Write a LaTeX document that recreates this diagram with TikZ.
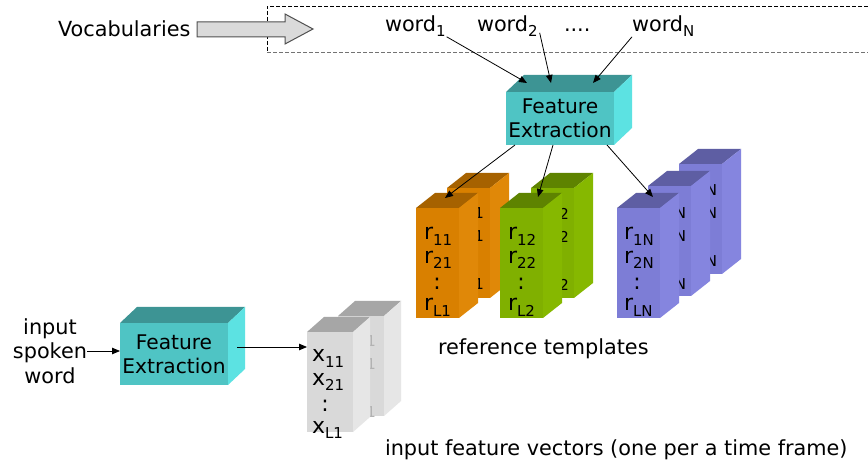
\documentclass[tikz,border=0pt]{standalone}
\usepackage{fontspec}
\setmainfont{DejaVu Sans}
\usetikzlibrary{arrows.meta,calc}

% face colours of the blocks: F = front, T = top, S = side
\definecolor{tealF}{RGB}{79,196,196}
\definecolor{tealT}{RGB}{61,148,148}
\definecolor{tealS}{RGB}{92,226,226}
\definecolor{greyF}{RGB}{217,217,217}
\definecolor{greyT}{RGB}{166,166,166}
\definecolor{greyS}{RGB}{230,230,230}
\definecolor{orngF}{RGB}{217,128,0}
\definecolor{orngT}{RGB}{166,98,0}
\definecolor{orngS}{RGB}{224,136,8}
\definecolor{grnF}{RGB}{128,176,0}
\definecolor{grnT}{RGB}{94,131,0}
\definecolor{grnS}{RGB}{134,184,0}
\definecolor{purpF}{RGB}{125,125,214}
\definecolor{purpT}{RGB}{94,94,163}
\definecolor{purpS}{RGB}{133,133,223}
\definecolor{arrowfill}{RGB}{218,218,218}
\definecolor{arrowline}{RGB}{80,80,80}

\tikzset{
  lbl/.style={inner sep=0pt, outer sep=0pt, font=\fontsize{20.8}{24.5}\selectfont},
  felbl/.style={inner sep=0pt, outer sep=0pt, font=\fontsize{20.2}{24}\selectfont},
  rowtext/.style={inner sep=0pt, outer sep=0pt, font=\fontsize{22}{24}\selectfont},
  subtext/.style={inner sep=0pt, outer sep=0pt, font=\fontsize{15}{15}\selectfont, anchor=base east},
  facebox/.style={inner sep=0pt, outer sep=0pt, draw=none, anchor=north west},
  conn/.style={-{Triangle[length=8pt,width=6.5pt]}, line width=0.8pt, black},
}

% subscript in running text
\newcommand\sbs[1]{\raisebox{-0.23em}{\fontsize{15}{15}\selectfont #1}}

% a block: name, x, y (front top-left), width, height, depth dx, depth dy, colour prefix
\newcommand\cuboid[8]{%
  \node[facebox, fill=#8F, minimum width=#4pt, minimum height=#5pt] (#1) at (#2,#3) {};
  \fill[#8T] (#1.north west) -- ++(#6,-#7) -- ++(#4,0) -- (#1.north east) -- cycle;
  \fill[#8S] (#1.north east) -- ++(#6,-#7) -- ++(0,#5) -- (#1.south east) -- cycle;
}

% the column of vector entries on a block: prefix, x, first baseline, letter, three subscripts
\newcommand\entries[7]{%
  \node[rowtext, anchor=base west] (#1a) at (#2,#3) {#4\sbs{#5}};
  \node[rowtext, anchor=base west] (#1b) at (#2,#3+23.5) {#4\sbs{#6}};
  \node[rowtext, anchor=base] (#1c) at (#2+13,#3+50) {:};
  \node[rowtext, anchor=base west] (#1d) at (#2,#3+71) {#4\sbs{#7}};
}

% entry ends of a block standing behind another: prefix, right x, first row centre, glyph, colour
\newcommand\tails[5]{%
  \node[subtext, text=#5] (#1a) at (#2,#3+5.5) {#4};
  \node[subtext, text=#5] (#1b) at (#2,#3+29) {#4};
  \node[subtext, text=#5] (#1d) at (#2,#3+76.5) {#4};
}

\begin{document}
\begin{tikzpicture}[x=1pt,y=-1pt]
\useasboundingbox[fill=white] (0,0) rectangle (868,462);

% vocabulary frame
\draw[black, line width=0.8pt, dash pattern=on 4pt off 2pt] (868,6) -- (267,6) -- (267,52);
\draw[black!55, line width=0.9pt, dash pattern=on 4pt off 2pt] (267,52) -- (868,52);

\node[lbl, anchor=west] (vocab) at (58,29) {Vocabularies};
\fill[arrowfill, draw=arrowline, line width=1pt]
  (197,22) -- (285,22) -- (285,14) -- (313,29) -- (285,44) -- (285,37) -- (197,37) -- cycle;

\node[lbl, anchor=base west] (w1) at (385,32) {word\sbs{1}};
\node[lbl, anchor=base west] (w2) at (477,32) {word\sbs{2}};
\node[lbl, anchor=base west] (wd) at (564,32) {....};
\node[lbl, anchor=base west] (wN) at (632,32) {word\sbs{N}};

% feature extraction for the vocabulary
\cuboid{fe1}{506}{92}{108}{53}{18}{17}{teal}
\node[felbl, align=center] (fe1t) at (fe1.center) {Feature\\Extraction};

% reference templates: orange
\cuboid{o2}{447}{188}{43}{110}{19}{15}{orng}
\tails{o2r}{484}{213}{1}{black}
\cuboid{o1}{416}{208}{43}{110}{19}{15}{orng}
\entries{o1r}{424}{240}{r}{11}{21}{L1}

% reference templates: green
\cuboid{g2}{531}{188}{43}{110}{19}{15}{grn}
\tails{g2r}{569}{214}{2}{black}
\cuboid{g1}{500}{208}{43}{110}{19}{15}{grn}
\entries{g1r}{508}{240}{r}{12}{22}{L2}

% reference templates: purple
\cuboid{p3}{679}{164}{43}{110}{19}{15}{purp}
\tails{p3r}{717}{190}{N}{black}
\cuboid{p2}{648}{186}{43}{110}{19}{15}{purp}
\tails{p2r}{686}{213}{N}{black}
\cuboid{p1}{617}{208}{43}{110}{19}{15}{purp}
\entries{p1r}{624}{240}{r}{1N}{2N}{LN}

% input side
\node[lbl, align=center] (inp) at (50,351) {input\\spoken\\word};
\cuboid{fe2}{120}{323}{108}{62}{17}{16}{teal}
\node[felbl, align=center] (fe2t) at (fe2.center) {Feature\\Extraction};

\cuboid{x2}{338}{316}{46}{100}{17}{15}{grey}
\tails{x2r}{376}{341}{1}{black!30}
\cuboid{x1}{307}{332}{46}{100}{17}{15}{grey}
\entries{x1r}{312}{362}{x}{11}{21}{L1}

\node[lbl, anchor=west] (reftxt) at (438,349) {reference templates};
\node[lbl, anchor=west] (inptxt) at (385,450) {input feature vectors (one per a time frame)};

% connectors
\draw[conn] ($(w1.south east)+(1,0)$) -- ($(fe1.north west)+(21,-9)$);
\draw[conn] ($(w2.south east)+(2,-4)$) -- ($(fe1.north)+(-9,-9)$);
\draw[conn] (wN.south west) -- ($(fe1.north)+(33,-9)$);

\draw[conn] ($(fe1.south west)+(9,0)$) -- ($(o1.north west)+(29,-10)$);
\draw[conn] ($(fe1.south)+(-7,0)$) -- ($(g1.north west)+(38,-11)$);
\draw[conn] ($(fe1.south east)+(-7,0)$) -- ($(p1.north west)+(36,-11)$);

\draw[conn] (inp.east) -- (inp.east -| fe2.west);
\coordinate (fe2out) at ($(fe2.east)+(9,-7)$);
\draw[conn] (fe2out) -- (fe2out -| x1.west);
\end{tikzpicture}
\end{document}
